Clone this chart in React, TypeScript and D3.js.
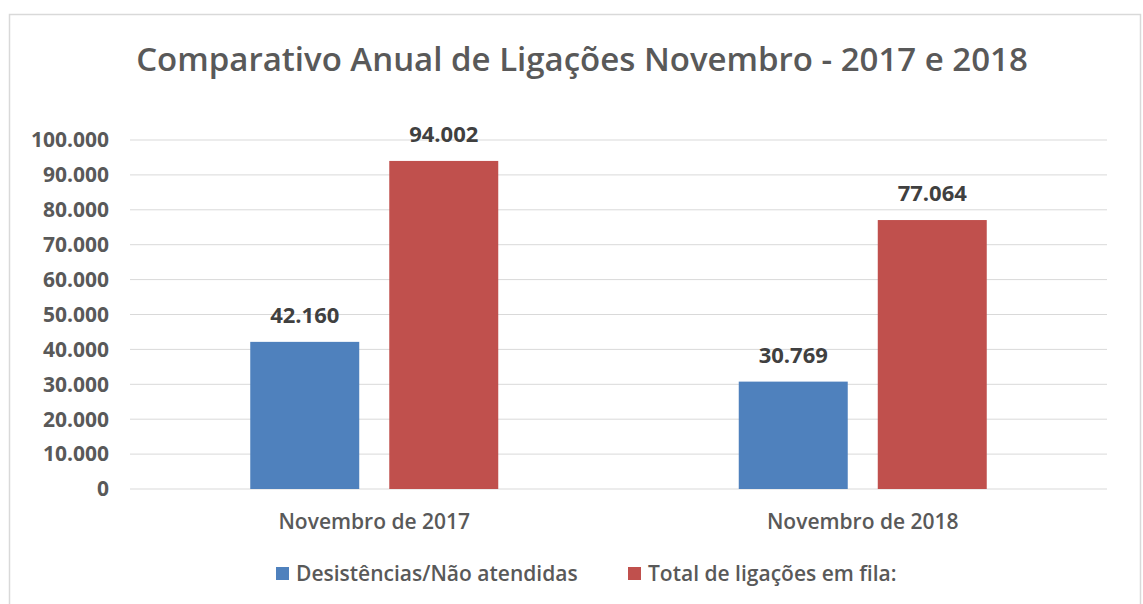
import * as d3 from "d3";

// chart data
const categories = ["Novembro de 2017", "Novembro de 2018"];
const seriesNames = ["Desistências/Não atendidas", "Total de ligações em fila:"];
const desistencias = [42160, 30769];
const totalFila = [94002, 77064];
const yTicks = [0, 10000, 20000, 30000, 40000, 50000, 60000, 70000, 80000, 90000, 100000];
const colors = ["#4F81BD", "#C0504D"];

const W = 1143;
const H = 604;
const FONT = "'Open Sans', 'Noto Sans', sans-serif";

const fmt = (v: number) => d3.format(",")(v).replace(/,/g, ".");

function App() {
    const margin = { left: 130, right: 36, top: 140, bottom: 115 };
    const innerW = W - margin.left - margin.right;
    const innerH = H - margin.top - margin.bottom;

    const x0 = d3.scaleBand().domain(categories).range([0, innerW]).padding(0);
    const x1 = d3
        .scaleBand()
        .domain(seriesNames)
        .range([-124, 124])
        .paddingInner(0.216)
        .paddingOuter(0);
    const y = d3.scaleLinear().domain([0, 100000]).range([innerH, 0]);

    const values = [desistencias, totalFila];

    return (
        <svg width={W} height={H} style={{ position: "absolute", left: 0, top: 0, fontFamily: FONT }}>
            <rect x={0} y={0} width={W} height={H} fill="#fff" />
            <rect x={9.5} y={14.5} width={1131} height={600} fill="#fff" stroke="#d9d9d9" strokeWidth={1.5} />
            <text x={582} y={71} textAnchor="middle" fontSize={33} fontWeight={600} fill="#595959">
                Comparativo Anual de Ligações Novembro - 2017 e 2018
            </text>
            <g transform={`translate(${margin.left},${margin.top})`}>
                {yTicks.map((t) => (
                    <g key={t}>
                        <line x1={0} x2={innerW} y1={y(t)} y2={y(t)} stroke="#d9d9d9" strokeWidth={1} />
                        <text x={-21} y={y(t)} dy="0.35em" textAnchor="end" fontSize={21} fontWeight={700} fill="#595959">
                            {fmt(t)}
                        </text>
                    </g>
                ))}
                {categories.map((c, i) => (
                    <g key={c} transform={`translate(${x0(c)! + x0.bandwidth() / 2},0)`}>
                        {seriesNames.map((s, j) => {
                            const v = values[j][i];
                            const bx = x1(s)!;
                            return (
                                <g key={s}>
                                    <rect x={bx} y={y(v)} width={x1.bandwidth()} height={innerH - y(v)} fill={colors[j]} />
                                    <text
                                        x={bx + x1.bandwidth() / 2}
                                        y={y(v) - 19}
                                        textAnchor="middle"
                                        fontSize={22}
                                        fontWeight={700}
                                        fill="#404040"
                                    >
                                        {fmt(v)}
                                    </text>
                                </g>
                            );
                        })}
                        <text x={0} y={innerH + 40} textAnchor="middle" fontSize={21} fontWeight={600} fill="#595959">
                            {c}
                        </text>
                    </g>
                ))}
            </g>
            <g transform="translate(276,567)">
                <rect x={0} y={0} width={13} height={13} fill={colors[0]} />
                <text x={20} y={14} fontSize={21} fontWeight={600} fill="#595959">{seriesNames[0]}</text>
                <rect x={352} y={0} width={13} height={13} fill={colors[1]} />
                <text x={372} y={14} fontSize={21} fontWeight={600} fill="#595959">{seriesNames[1]}</text>
            </g>
        </svg>
    );
}

export default App;
